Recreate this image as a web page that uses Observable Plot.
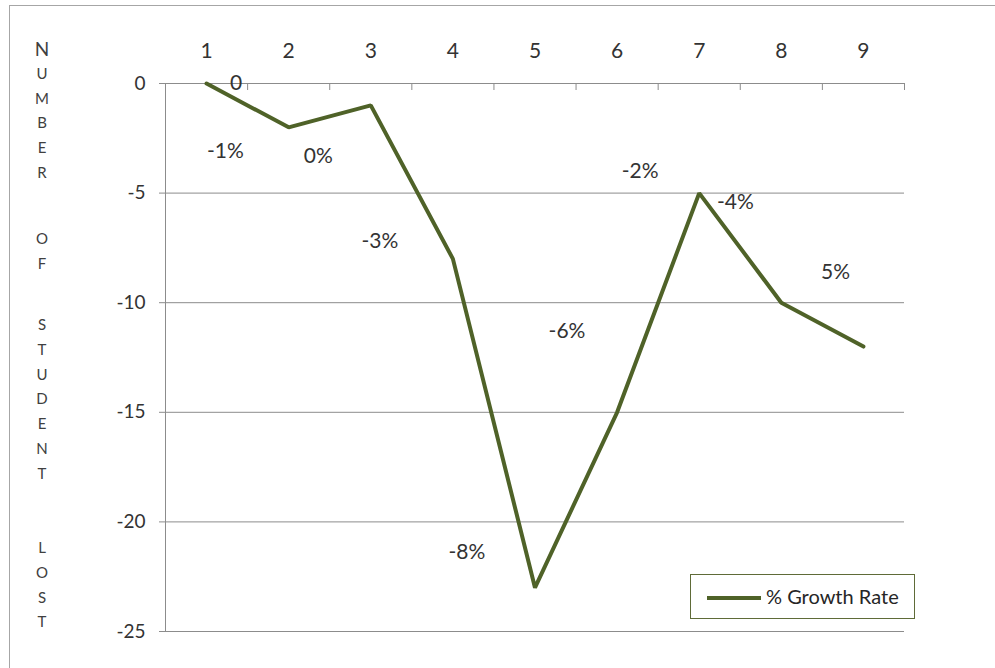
<!DOCTYPE html>
<html>
<head>
<meta charset="utf-8">
<script src="https://cdn.jsdelivr.net/npm/d3@7"></script>
<script src="https://cdn.jsdelivr.net/npm/@observablehq/plot@0.6"></script>
<style>
  body { margin: 0; background: #fff; font-family: Lato, "Open Sans", sans-serif; }
  #wrap { position: relative; width: 995px; height: 668px; overflow: hidden; }
  #wrap svg { position: absolute; left: 0; top: 0; }
  .frame-top { position: absolute; left: 9px; top: 5px; width: 986px; height: 0; border-top: 1px solid #a6a6a6; }
  .frame-left { position: absolute; left: 9px; top: 5px; width: 0; height: 663px; border-left: 1px solid #a6a6a6; }
  .ytitle { position: absolute; left: 30px; width: 24px; text-align: center; color: #404040; font-size: 15px; }
  .ytitle span { position: absolute; left: 0; width: 24px; transform: translateY(-50%); }
  .legend { position: absolute; left: 690px; top: 574px; width: 225px; height: 45px; box-sizing: border-box;
            border: 1px solid #5f6b38; background: #fff; }
  .legend .swatch { position: absolute; left: 16px; top: 21px; width: 54px; height: 4px; background: #4f6228; }
  .legend .lab { position: absolute; left: 75px; top: 0; line-height: 42px; font-size: 20px; color: #262626; }
</style>
</head>
<body>
<div id="wrap">
  <div class="frame-top"></div>
  <div class="frame-left"></div>
</div>
<script>
// Students lost per period
const periods = [1, 2, 3, 4, 5, 6, 7, 8, 9];
const studentsLost = [0, -2, -1, -8, -23, -15, -5, -10, -12];

// Growth-rate annotations and where each one sits (period axis, value axis)
const rateText = ["0", "-1%", "0%", "-3%", "-8%", "-6%", "-2%", "-4%", "5%"];
const rateAtPeriod = [1.36, 1.23, 2.36, 3.11, 4.17, 5.39, 6.28, 7.44, 8.66];
const rateAtValue = [0, -3.1, -3.3, -7.2, -21.4, -11.3, -4.0, -5.4, -8.6];

const yTicks = [0, -5, -10, -15, -20, -25];
const gridLines = [-5, -10, -15, -20, -25];
const categoryEdges = [0.5, 1.5, 2.5, 3.5, 4.5, 5.5, 6.5, 7.5, 8.5, 9.5];

const legendLabel = "% Growth Rate";
const axisTitleWords = ["NUMBER", "OF", "STUDENT", "LOST"];

const series = periods.map((p, i) => ({period: p, lost: studentsLost[i]}));
const notes = rateText.map((t, i) => ({t, x: rateAtPeriod[i], y: rateAtValue[i]}));

const ink = "#333333";
const axisGray = "#8c8c8c";
const olive = "#4f6228";

const chart = Plot.plot({
  width: 995,
  height: 668,
  marginLeft: 165,
  marginRight: 91,
  marginTop: 83,
  marginBottom: 37,
  style: {fontFamily: "Lato, 'Open Sans', sans-serif", background: "transparent", color: ink},
  x: {type: "linear", domain: [0.5, 9.5]},
  y: {domain: [-25, 0]},
  marks: [
    Plot.ruleY(gridLines, {stroke: axisGray, strokeWidth: 1}),
    Plot.ruleY([0], {stroke: axisGray, strokeWidth: 1}),
    Plot.ruleX([0.5], {stroke: axisGray, strokeWidth: 1}),
    // category separators hanging below the top axis
    Plot.ruleX(categoryEdges, {y1: 0, y2: 0, insetBottom: -7, stroke: axisGray, strokeWidth: 1}),
    Plot.axisY({
      ticks: yTicks, tickSize: 6, tickPadding: 14, tickFormat: d => String(d),
      fontSize: 19, stroke: axisGray, fill: ink
    }),
    Plot.axisX({
      anchor: "top", ticks: periods, tickSize: 0, tickPadding: 26, tickFormat: d => String(d),
      fontSize: 21, fill: ink
    }),
    Plot.line(series, {x: "period", y: "lost", stroke: olive, strokeWidth: 4, strokeLinejoin: "miter"}),
    Plot.text(notes, {x: "x", y: "y", text: "t", fontSize: 21, fill: ink})
  ]
});

const wrap = document.getElementById("wrap");
wrap.appendChild(chart);

// Vertical, one-letter-per-line axis title
const wordTops = [48, 238, 324, 547];
const letterStep = 24.8;
axisTitleWords.forEach((w, wi) => {
  [...w].forEach((ch, ci) => {
    const s = document.createElement("div");
    s.className = "ytitle";
    s.style.top = (wordTops[wi] + ci * letterStep) + "px";
    const sp = document.createElement("span");
    sp.textContent = ch;
    if (wi === 0 && ci === 0) sp.style.fontSize = "19px";
    s.appendChild(sp);
    wrap.appendChild(s);
  });
});

// Legend
const lg = document.createElement("div");
lg.className = "legend";
lg.innerHTML = '<div class="swatch"></div><div class="lab"></div>';
lg.querySelector(".lab").textContent = legendLabel;
wrap.appendChild(lg);
</script>
</body>
</html>
